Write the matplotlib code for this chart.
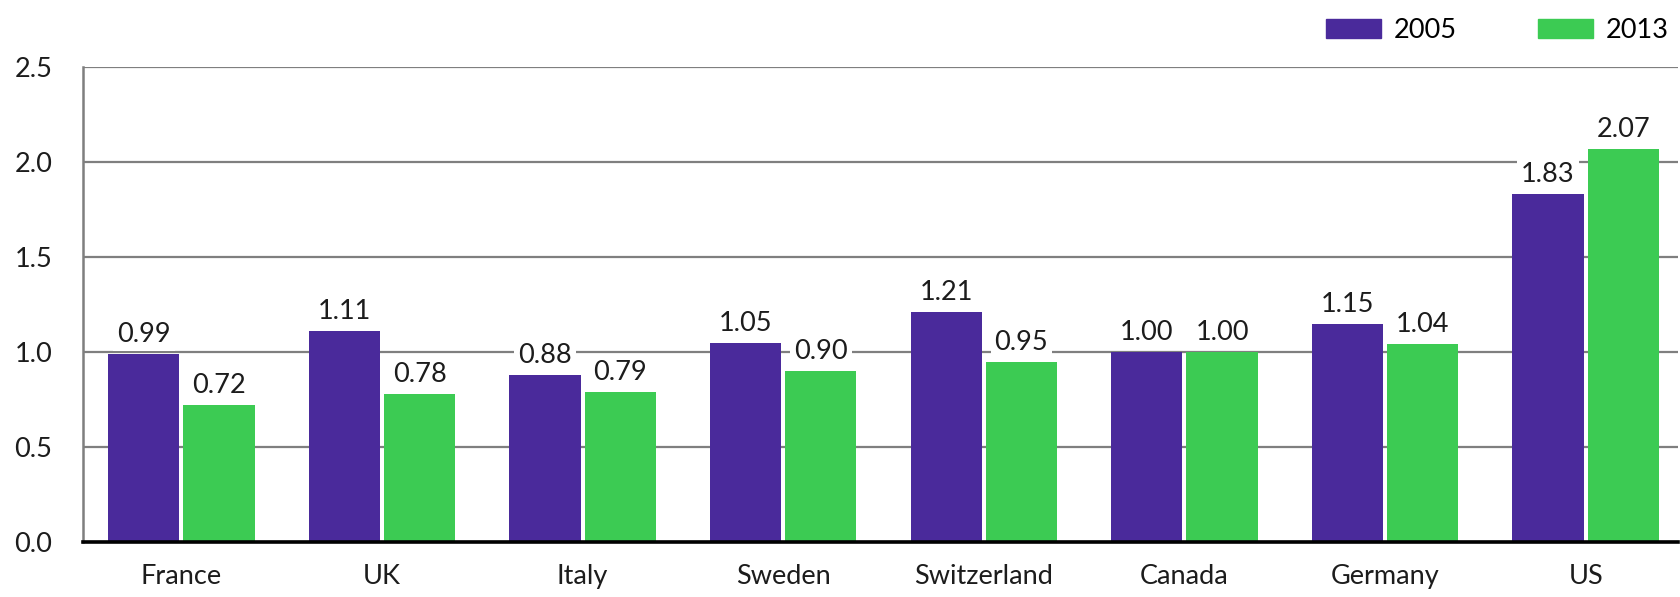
import numpy as np
import matplotlib.pyplot as plt
from matplotlib.patches import Patch

plt.rcParams['font.family'] = ['Lato', 'DejaVu Sans']

countries = ['France', 'UK', 'Italy', 'Sweden', 'Switzerland', 'Canada', 'Germany', 'US']
values2005 = [0.99, 1.11, 0.88, 1.05, 1.21, 1.00, 1.15, 1.83]
values2013 = [0.72, 0.78, 0.79, 0.90, 0.95, 1.00, 1.04, 2.07]
yticks = [0.0, 0.5, 1.0, 1.5, 2.0, 2.5]

purple = '#4a2a9b'
green = '#3ccb53'
grid_grey = '#7f7f7f'
txt = '#1c1c1c'

fig = plt.figure(figsize=(16.8, 5.97), dpi=100)
ax = fig.add_axes([0.0494, 0.0921, 0.9494, 0.7957])

x = np.arange(len(countries))
w = 0.355
gap = 0.01
bars1 = ax.bar(x - w / 2 - gap, values2005, w, color=purple, zorder=3)
bars2 = ax.bar(x + w / 2 + gap, values2013, w, color=green, zorder=3)

# value labels sit on a white box so they cut the gridlines
for bars, vals in ((bars1, values2005), (bars2, values2013)):
    for b, v in zip(bars, vals):
        ax.annotate('%.2f' % v, (b.get_x() + b.get_width() / 2, v),
                    xytext=(0, 5), textcoords='offset points',
                    ha='center', va='bottom', fontsize=19.5, color=txt,
                    zorder=4,
                    bbox=dict(boxstyle='square,pad=0.15', fc='white', ec='none'))

ax.set_ylim(0, 2.5)
ax.set_xlim(-0.49, len(countries) - 0.54)
ax.set_yticks(yticks)
ax.set_yticklabels(['%.1f' % t for t in yticks], fontsize=19.5, color=txt)
ax.set_xticks(x)
ax.set_xticklabels(countries, fontsize=19.5, color=txt)
ax.tick_params(axis='y', length=0, pad=22)
ax.tick_params(axis='x', length=0, pad=16)

ax.yaxis.grid(True, color=grid_grey, linewidth=1.6, zorder=0)
ax.set_axisbelow(True)
for s in ('top', 'right'):
    ax.spines[s].set_visible(False)
ax.spines['left'].set_color(grid_grey)
ax.spines['left'].set_linewidth(1.8)
ax.spines['bottom'].set_color('black')
ax.spines['bottom'].set_linewidth(2.6)
ax.spines['bottom'].set_zorder(5)

handles = [Patch(color=purple, label='2005'), Patch(color=green, label='2013')]
fig.legend(handles=handles, loc='upper right', bbox_to_anchor=(1.008, 1.01),
           ncol=2, frameon=False, fontsize=19.5, handlelength=2.0,
           handleheight=0.7, handletextpad=0.5, columnspacing=3.0)

fig.savefig('out.png', dpi=100)
